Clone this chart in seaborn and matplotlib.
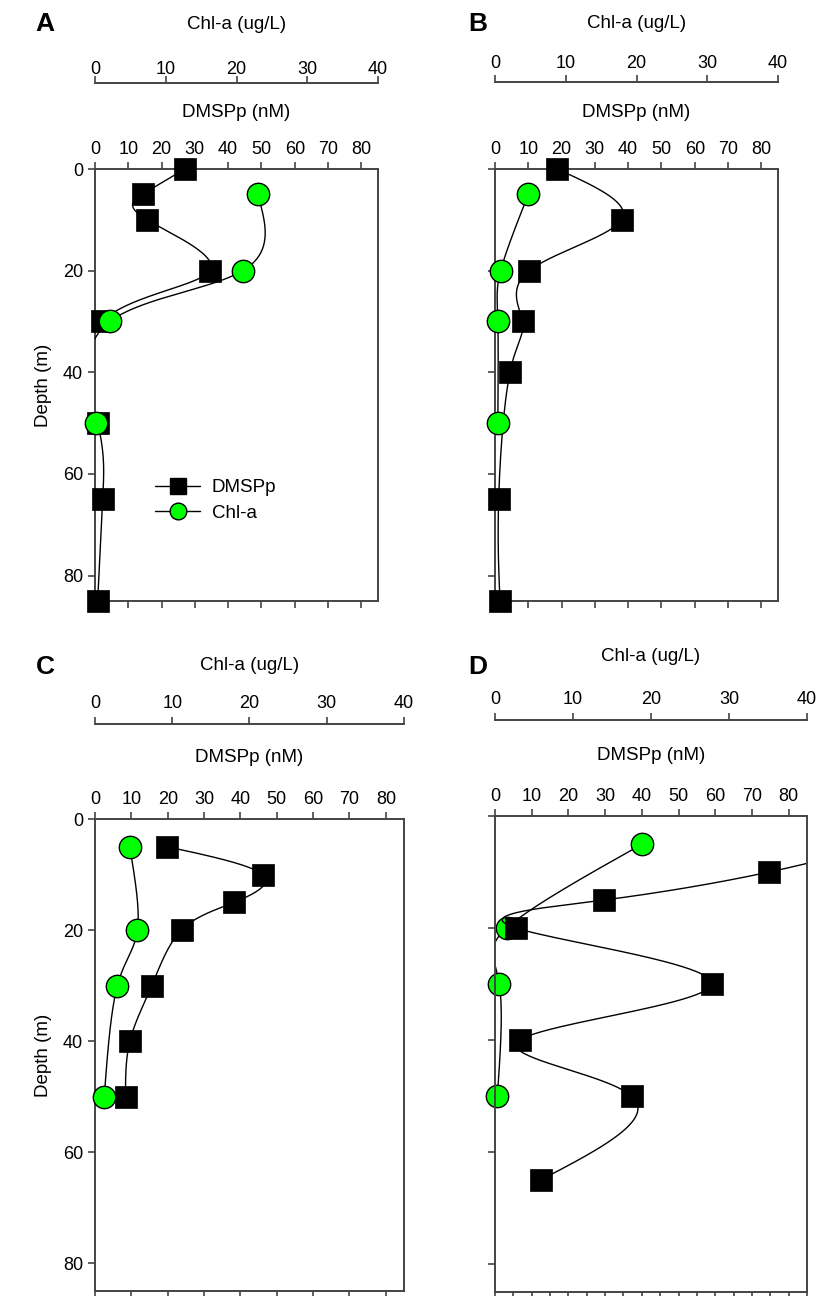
import numpy as np
import matplotlib
matplotlib.use("Agg")
import matplotlib.pyplot as plt
from matplotlib.lines import Line2D
import seaborn as sns

# ---------------- data ----------------
depth_dmsp_A = [0, 5, 10, 20, 30, 50, 65, 85]
dmsp_A = [27.0, 14.3, 15.7, 34.5, 2.0, 0.8, 2.3, 0.8]
depth_chl_A = [5, 20, 30, 50]
chl_A = [23.0, 20.9, 2.1, 0.1]

depth_dmsp_B = [0, 10, 20, 30, 40, 65, 85]
dmsp_B = [18.7, 38.0, 10.3, 8.3, 4.5, 1.1, 1.5]
depth_chl_B = [5, 20, 30, 50]
chl_B = [4.7, 0.8, 0.4, 0.4]

depth_dmsp_C = [5, 10, 15, 20, 30, 40, 50]
dmsp_C = [19.9, 46.1, 38.3, 23.8, 15.6, 9.6, 8.4]
depth_chl_C = [5, 20, 30, 50]
chl_C = [4.5, 5.5, 2.9, 1.2]

depth_dmsp_D = [5, 10, 15, 20, 30, 40, 50, 65]
dmsp_D = [105.0, 74.7, 29.7, 5.7, 59.0, 6.8, 37.2, 12.4]
depth_chl_D = [5, 20, 30, 50]
chl_D = [18.9, 1.5, 0.55, 0.3]

panel_letters = ["A", "B", "C", "D"]
dmsp_ticks = [0, 10, 20, 30, 40, 50, 60, 70, 80]
chl_ticks = [0, 10, 20, 30, 40]
depth_ticks = [0, 20, 40, 60, 80]
legend_labels = ["DMSPp", "Chl-a"]

GREEN = "#00ff00"
SPINE = "#444444"


def natural_spline(t, y, tt):
    t = np.asarray(t, float)
    y = np.asarray(y, float)
    k = len(t)
    h = np.diff(t)
    A = np.zeros((k, k))
    r = np.zeros(k)
    A[0, 0] = 1
    A[-1, -1] = 1
    for i in range(1, k - 1):
        A[i, i - 1] = h[i - 1]
        A[i, i] = 2 * (h[i - 1] + h[i])
        A[i, i + 1] = h[i]
        r[i] = 6 * ((y[i + 1] - y[i]) / h[i] - (y[i] - y[i - 1]) / h[i - 1])
    M = np.linalg.solve(A, r)
    idx = np.clip(np.searchsorted(t, tt) - 1, 0, k - 2)
    t0, t1 = t[idx], t[idx + 1]
    hh = t1 - t0
    a = (t1 - tt) / hh
    b = (tt - t0) / hh
    return (a * y[idx] + b * y[idx + 1]
            + ((a ** 3 - a) * M[idx] + (b ** 3 - b) * M[idx + 1]) * hh ** 2 / 6)


def spline_curve(d, x):
    """Parametric cubic spline through the measured points (rendering only)."""
    u = np.arange(len(d), dtype=float)
    uu = np.linspace(0, u[-1], 500)
    return natural_spline(u, x, uu), natural_spline(u, d, uu)


sns.set_theme(style="ticks")
plt.rcParams["font.family"] = ["Liberation Sans", "DejaVu Sans"]
plt.rcParams["text.color"] = "black"
plt.rcParams["axes.labelcolor"] = "black"
plt.rcParams["axes.edgecolor"] = SPINE
plt.rcParams["xtick.color"] = SPINE
plt.rcParams["ytick.color"] = SPINE
plt.rcParams["xtick.labelcolor"] = "black"
plt.rcParams["ytick.labelcolor"] = "black"

fig = plt.figure(figsize=(8.2, 12.96), dpi=100)

W, H = 820.0, 1296.0
boxes = [(95, 169, 378, 601), (495, 169, 778, 601),
         (95, 819, 404, 1291), (495, 816, 807, 1292)]
chl_offsets = [86, 87, 95, 96]
chl_pads = [-1.5, 2.1, 3.5, 3.5]
chl_labelpads = [22.8, 19.2, 18.5, 21.4]
dmsp_labelpads = [17, 17, 20.6, 20.2]
panels = [
    (depth_dmsp_A, dmsp_A, depth_chl_A, chl_A),
    (depth_dmsp_B, dmsp_B, depth_chl_B, chl_B),
    (depth_dmsp_C, dmsp_C, depth_chl_C, chl_C),
    (depth_dmsp_D, dmsp_D, depth_chl_D, chl_D),
]

FS = 13
for i, ((l, t, r, b), (dd, dv, cd, cv)) in enumerate(zip(boxes, panels)):
    ax = fig.add_axes([l / W, 1 - b / H, (r - l) / W, (b - t) / H])
    ax2 = ax.twiny()

    clip = (i == 3)
    # DMSPp
    vx, vy = spline_curve(dd, dv)
    ax.plot(vx, vy, color="black", lw=1.0, zorder=2)
    sns.scatterplot(x=dv, y=dd, ax=ax, marker="s", s=250, color="black",
                    edgecolor="black", linewidth=0.5, zorder=3, legend=False,
                    clip_on=clip)
    # Chl-a
    cx, cy = spline_curve(cd, cv)
    ax2.plot(cx, cy, color="black", lw=1.0, zorder=2)
    sns.scatterplot(x=cv, y=cd, ax=ax2, marker="o", s=260, color=GREEN,
                    edgecolor="black", linewidth=1.0, zorder=3, legend=False,
                    clip_on=False)

    if i == 3:
        ax2.set_zorder(ax.get_zorder() - 1)
        ax.patch.set_visible(False)

    ax.set_xlim(0, 85)
    ax.set_ylim(85, 0)
    ax2.set_xlim(0, 40)
    ax2.set_ylim(85, 0)

    ax.xaxis.set_ticks_position("both")
    ax.xaxis.set_label_position("top")
    ax.tick_params(axis="x", which="both", top=True, labeltop=True,
                   bottom=True, labelbottom=False, direction="out",
                   length=5, width=1.2, labelsize=FS, pad=3)
    ax.set_xticks(dmsp_ticks)
    if i == 3:
        ax.set_xticks(np.arange(0, 86, 5), minor=True)
        ax.tick_params(axis="x", which="minor", top=False, bottom=True,
                       length=5, width=1.2)
    ax.set_xlabel("DMSPp (nM)", fontsize=FS + 0.5, labelpad=dmsp_labelpads[i])

    ax.set_yticks(depth_ticks)
    ax.tick_params(axis="y", direction="out", length=5, width=1.2,
                   labelsize=FS, left=True, right=False,
                   labelleft=(i in (0, 2)))
    if i in (0, 2):
        ax.set_ylabel("Depth (m)", fontsize=FS + 0.5, labelpad=8)
    else:
        ax.set_ylabel("")
    for s in ax.spines.values():
        s.set_linewidth(1.4)
        s.set_color(SPINE)

    for name in ("left", "right", "bottom"):
        ax2.spines[name].set_visible(False)
    ax2.spines["top"].set_position(("outward", chl_offsets[i] * 0.72))
    ax2.spines["top"].set_linewidth(1.4)
    ax2.spines["top"].set_color(SPINE)
    ax2.set_xticks(chl_ticks)
    ax2.tick_params(axis="x", direction="out", length=5, width=1.2,
                    labelsize=FS, pad=chl_pads[i])
    ax2.tick_params(axis="y", left=False, right=False, labelleft=False,
                    labelright=False)
    ax2.set_xlabel("Chl-a (ug/L)", fontsize=FS + 0.5, labelpad=chl_labelpads[i])

    lx = 45 if i in (0, 2) else 478
    ly = 24 if i < 2 else 667
    fig.text(lx / W, 1 - ly / H, panel_letters[i], fontsize=19,
             fontweight="bold", ha="center", va="center")

    if i == 0:
        handles = [
            Line2D([], [], color="black", lw=1.0, marker="s", markersize=12,
                   markerfacecolor="black", markeredgecolor="black"),
            Line2D([], [], color="black", lw=1.0, marker="o", markersize=12,
                   markerfacecolor=GREEN, markeredgecolor="black"),
        ]
        fig.legend(handles, legend_labels, loc="upper left",
                   bbox_to_anchor=(146 / W, 1 - 470 / H), frameon=False,
                   fontsize=FS + 0.5, handlelength=2.4, handletextpad=0.6,
                   labelspacing=0.45, borderpad=0)

fig.savefig("out.png", dpi=100)
